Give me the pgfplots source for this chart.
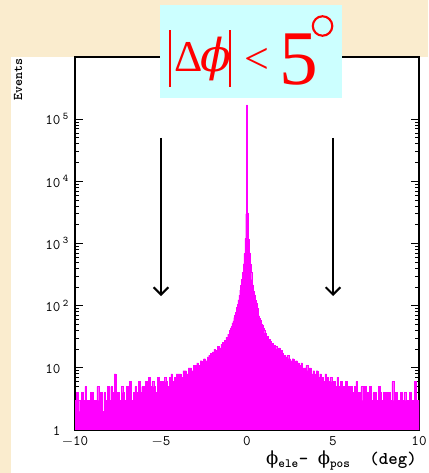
\documentclass[border=0pt]{standalone}
\usepackage{fontspec}
\setmainfont{Liberation Serif}
\newfontfamily\titleserif{Liberation Serif}
\newfontfamily\greekit{DejaVu Serif}
\usepackage{pgfplots}
\pgfplotsset{compat=1.18}
\usetikzlibrary{arrows.meta}
\definecolor{parchment}{RGB}{250,236,206}
\definecolor{titlecyan}{RGB}{204,255,255}
\definecolor{histmag}{RGB}{255,0,255}

\begin{document}
\begin{tikzpicture}
% page background and canvas (1px = 0.75pt)
\fill[parchment] (0,0) rectangle (321pt,354.75pt);
\fill[white] (8.25pt,0) rectangle (321pt,312pt);

\begin{axis}[
 at={(56.25pt,32.25pt)},anchor=south west,
 width=258pt,height=279.75pt,scale only axis,
 xmin=-10,xmax=10,ymode=log,ymin=1,ymax=1e6,
 xtick={-10,-5,0,5,10},
 xticklabels={\mbox{$-$10},\mbox{$-$5},\mbox{0},\mbox{5},\mbox{10}},
 minor x tick num=4,
 ytick={1,10,100,1000,10000,100000},
 yticklabels={\mbox{1\phantom{\,\textsuperscript{5}}},\mbox{10\phantom{\,\textsuperscript{5}}},\mbox{10\,\textsuperscript{2}},\mbox{10\,\textsuperscript{3}},\mbox{10\,\textsuperscript{4}},\mbox{10\,\textsuperscript{5}}},
 tick align=inside,xtick pos=left,ytick pos=both,yticklabel pos=left,
 major tick length=6pt,minor tick length=3pt,
 every tick/.style={black,line width=0.6pt},
 axis line style={line width=0.9pt},
 xticklabel style={font=\ttfamily\fontsize{11}{12}\selectfont,yshift=-1.5pt},
 yticklabel style={font=\ttfamily\fontsize{11}{12}\selectfont,xshift=-1pt},
]
\addplot[const plot,fill=histmag,draw=histmag,line width=0.2pt] coordinates {
(-10.025,1)
(-10.025,3) (-9.925,4) (-9.825,3) (-9.725,2) (-9.625,4) (-9.525,3) (-9.425,5) (-9.325,3) (-9.225,3) (-9.125,4)
(-9.025,4) (-8.925,3) (-8.825,3) (-8.725,5) (-8.625,3) (-8.525,4) (-8.425,2) (-8.325,4) (-8.225,3) (-8.125,5)
(-8.025,3) (-7.925,5) (-7.825,4) (-7.725,8) (-7.625,3) (-7.525,4) (-7.425,3) (-7.325,5) (-7.225,4) (-7.125,3)
(-7.025,5) (-6.925,4) (-6.825,6) (-6.725,3) (-6.625,4) (-6.525,5) (-6.425,4) (-6.325,6) (-6.225,4) (-6.125,5)
(-6.025,5) (-5.925,6) (-5.825,4) (-5.725,7) (-5.625,5) (-5.525,6) (-5.425,5) (-5.325,4) (-5.225,7) (-5.125,6)
(-5.025,6) (-4.925,6) (-4.825,7) (-4.725,6) (-4.625,5) (-4.525,7) (-4.425,8) (-4.325,6) (-4.225,7) (-4.125,8)
(-4.025,8) (-3.925,8) (-3.825,7) (-3.725,9) (-3.625,9) (-3.525,8) (-3.425,10) (-3.325,10) (-3.225,9) (-3.125,11)
(-3.025,11) (-2.925,12) (-2.825,11) (-2.725,13) (-2.625,12) (-2.525,14) (-2.425,13) (-2.325,15) (-2.225,16) (-2.125,17)
(-2.025,18) (-1.925,20) (-1.825,19) (-1.725,22) (-1.625,21) (-1.525,24) (-1.425,26) (-1.325,28) (-1.225,31) (-1.125,35)
(-1.025,40) (-0.975,44) (-0.925,47) (-0.875,53) (-0.825,57) (-0.775,64) (-0.725,71) (-0.675,79) (-0.625,93) (-0.575,106)
(-0.525,124) (-0.475,148) (-0.425,178) (-0.375,212) (-0.325,268) (-0.275,345) (-0.225,470) (-0.175,690) (-0.125,1200) (-0.075,3000)
(-0.025,170000)
(0.025,3100) (0.075,1180) (0.125,710) (0.175,460) (0.225,350) (0.275,262) (0.325,215) (0.375,172) (0.425,150) (0.475,121)
(0.525,108) (0.575,90) (0.625,81) (0.675,69) (0.725,63) (0.775,58) (0.825,51) (0.875,48) (0.925,43) (0.975,41)
(1.025,36) (1.125,32) (1.225,29) (1.325,27) (1.425,25) (1.525,23) (1.625,22) (1.725,20) (1.825,21) (1.925,19)
(2.025,17) (2.125,16) (2.225,15) (2.325,16) (2.425,14) (2.525,13) (2.625,14) (2.725,12) (2.825,13) (2.925,12)
(3.025,11) (3.125,12) (3.225,10) (3.325,10) (3.425,11) (3.525,9) (3.625,10) (3.725,8) (3.825,9) (3.925,8)
(4.025,9) (4.125,7) (4.225,8) (4.325,7) (4.425,6) (4.525,8) (4.625,7) (4.725,6) (4.825,7) (4.925,6)
(5.025,6) (5.125,5) (5.225,7) (5.325,5) (5.425,6) (5.525,5) (5.625,4) (5.725,6) (5.825,5) (5.925,5)
(6.025,5) (6.125,4) (6.225,5) (6.325,6) (6.425,4) (6.525,4) (6.625,5) (6.725,3) (6.825,5) (6.925,4)
(7.025,4) (7.125,5) (7.225,3) (7.325,4) (7.425,4) (7.525,3) (7.625,5) (7.725,4) (7.825,3) (7.925,4)
(8.025,4) (8.125,3) (8.225,4) (8.325,3) (8.425,6) (8.525,3) (8.625,4) (8.725,3) (8.825,3) (8.925,4)
(9.025,3) (9.125,4) (9.225,3) (9.325,3) (9.425,4) (9.525,2) (9.625,3) (9.725,6) (9.825,3) (9.925,3)
(10.025,3) (10.025,1)
};
% cut markers at +-5 degrees
\draw[line width=1.5pt,-{Straight Barb[length=5.5pt,width=11pt]}] (axis cs:-5,5.0e4) -- (axis cs:-5,143);
\draw[line width=1.5pt,-{Straight Barb[length=5.5pt,width=11pt]}] (axis cs:5,5.0e4) -- (axis cs:5,143);
\end{axis}

% title box
\fill[titlecyan] (120pt,281.25pt) rectangle (256.5pt,351pt);
\draw[red,line width=1.6pt] (127.5pt,289.5pt) -- (127.5pt,332.25pt);
\draw[red,line width=1.6pt] (172.5pt,289.5pt) -- (172.5pt,332.25pt);
\node[red,anchor=base,inner sep=0,font=\titleserif\fontsize{33}{33}\selectfont] at (141.4pt,300.75pt) {Δ};
\node[red,anchor=base,inner sep=0,font=\greekit\itshape\fontsize{34}{34}\selectfont] at (162pt,300.75pt) {ϕ};
\node[red,inner sep=0,font=\titleserif\fontsize{33}{33}\selectfont] at (192.4pt,309pt) {<};
\node[red,anchor=base,inner sep=0,font=\titleserif\fontsize{58}{58}\selectfont] at (223.9pt,291pt) {5};
\draw[red,line width=1.6pt] (241.9pt,335.25pt) circle (7.3pt);

% axis titles
\node[rotate=90,anchor=east,inner sep=0,font=\ttfamily\bfseries\fontsize{10}{10}\selectfont] at (13.5pt,311.25pt) {Events};
\node[anchor=base east,inner sep=0,font=\ttfamily\bfseries\fontsize{13.5}{13.5}\selectfont] at (312.75pt,6pt) {{\greekit\mdseries ϕ}\textsubscript{ele}-~{\greekit\mdseries ϕ}\textsubscript{pos}~~(deg)};

\pgfresetboundingbox
\useasboundingbox (0,0) rectangle (321pt,354.75pt);
\end{tikzpicture}
\end{document}
